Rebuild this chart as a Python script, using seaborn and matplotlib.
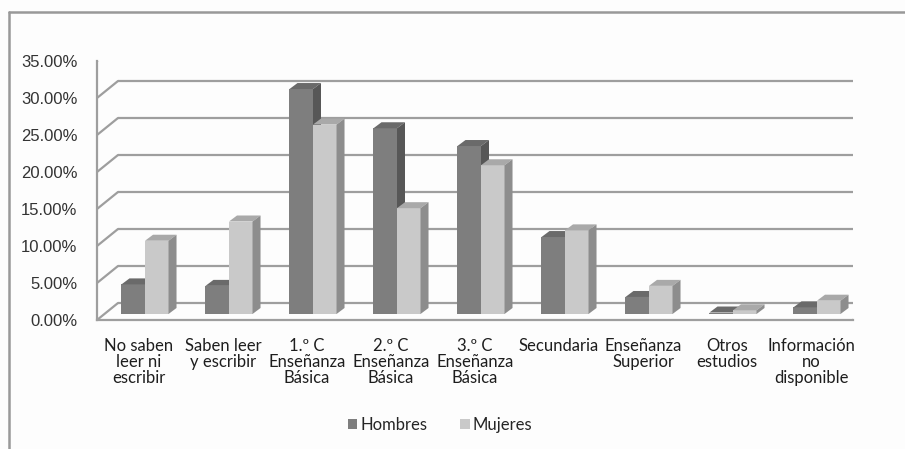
import matplotlib
matplotlib.use("Agg")
import matplotlib.pyplot as plt
from matplotlib.patches import Polygon, Patch
from matplotlib.lines import Line2D
from matplotlib.transforms import ScaledTranslation
import seaborn as sns
import pandas as pd

# ---- data -------------------------------------------------------------
categorias = [
    "No saben\nleer ni\nescribir",
    "Saben leer\ny escribir",
    "1.º C\nEnseñanza\nBásica",
    "2.º C\nEnseñanza\nBásica",
    "3.º C\nEnseñanza\nBásica",
    "Secundaria",
    "Enseñanza\nSuperior",
    "Otros\nestudios",
    "Información\nno\ndisponible",
]
hombres = [4.0, 3.8, 30.4, 25.1, 22.7, 10.4, 2.3, 0.2, 0.9]
mujeres = [9.9, 12.5, 25.6, 14.3, 20.1, 11.3, 3.8, 0.5, 1.8]
series = ["Hombres", "Mujeres"]
y_ticks = [0, 5, 10, 15, 20, 25, 30, 35]

df = pd.DataFrame({
    "nivel": categorias * 2,
    "pct": hombres + mujeres,
    "sexo": [series[0]] * len(categorias) + [series[1]] * len(categorias),
})

# ---- styling ----------------------------------------------------------
sns.set_style("white")
plt.rcParams["font.family"] = ["Liberation Sans", "DejaVu Sans"]

W, H, DPI = 905, 449, 100
front = {"Hombres": "#7e7e7e", "Mujeres": "#c9c9c9"}
top = {"Hombres": "#6a6a6a", "Mujeres": "#a9a9a9"}
side = {"Hombres": "#575757", "Mujeres": "#8d8d8d"}
grid_c = "#9e9e9e"

fig = plt.figure(figsize=(W / DPI, H / DPI), dpi=DPI)
fig.patch.set_facecolor("#fdfdfd")

# front plane of the 3-D box (pixel geometry)
ax_l, ax_r, ax_b, ax_t = 97, 853, 320, 61
ax = fig.add_axes([ax_l / W, (H - ax_b) / H, (ax_r - ax_l) / W, (ax_b - ax_t) / H])
ax.patch.set_alpha(0)

sns.barplot(data=df, x="nivel", y="pct", hue="sexo", palette=front,
            width=0.56, dodge=True, ax=ax, legend=False, saturation=1,
            edgecolor="none", linewidth=0)

ax.set_xlim(-0.5, len(categorias) - 0.5)
ax.set_ylim(0, 35)

# data units per pixel
kx = len(categorias) / (ax_r - ax_l)
ky = 35 / (ax_b - ax_t)

# back wall & side wall
bdx, bdy = 21 * kx, 17 * ky
x0, x1 = -0.5, len(categorias) - 0.5
for v in y_ticks:
    ax.plot([x0 + bdx, x1 + bdx], [v + bdy, v + bdy], color=grid_c, lw=1.6,
            zorder=1, solid_capstyle="butt")
    ax.plot([x0, x0 + bdx], [v, v + bdy], color=grid_c, lw=1.6, zorder=1)
# floor right edge
ax.plot([x1, x1 + bdx], [0, bdy], color=grid_c, lw=1.6, zorder=1)

# 3-D faces for each bar
shift = ScaledTranslation(6 / DPI, 6 / DPI, fig.dpi_scale_trans)
ddx, ddy = 8 * kx, 6 * ky
for name, cont, z in zip(series, ax.containers, (3, 4)):
    for p in cont.patches:
        bx, bw, bh = p.get_x(), p.get_width(), p.get_height()
        tr = ax.transData + shift
        p.set_transform(tr)
        p.set_zorder(z)
        top_face = Polygon([(bx, bh), (bx + bw, bh), (bx + bw + ddx, bh + ddy),
                            (bx + ddx, bh + ddy)], closed=True,
                           facecolor=top[name], edgecolor="none",
                           transform=tr, zorder=z)
        side_face = Polygon([(bx + bw, 0), (bx + bw + ddx, ddy),
                             (bx + bw + ddx, bh + ddy), (bx + bw, bh)],
                            closed=True, facecolor=side[name],
                            edgecolor="none", transform=tr, zorder=z)
        ax.add_patch(top_face)
        ax.add_patch(side_face)

# axes: front vertical axis and floor edge
sns.despine(ax=ax, top=True, right=True)
for s in ("left", "bottom"):
    ax.spines[s].set_color(grid_c)
    ax.spines[s].set_linewidth(1.6)
    ax.spines[s].set_zorder(2)

ax.set_yticks(y_ticks)
ax.set_yticklabels([f"{v:.2f}%" for v in y_ticks])
ax.tick_params(axis="y", length=3, width=1.2, color=grid_c, pad=11,
               labelsize=12, labelcolor="#333333")
ax.set_xticks(range(len(categorias)))
ax.set_xticklabels(categorias, family=["Lato", "DejaVu Sans"], fontsize=12,
                   color="#1e1e1e", linespacing=1.0)
ax.set_xticks([i - 0.5 for i in range(1, len(categorias) + 1)], minor=True)
ax.tick_params(axis="x", which="major", length=0, pad=13)
ax.tick_params(axis="x", which="minor", length=4, width=1.2, color=grid_c)
ax.set_xlabel("")
ax.set_ylabel("")

# outer chart frame
fig.add_artist(Line2D([9 / W, 9 / W], [0, 1 - 12 / H], color="#999999", lw=1.8))
fig.add_artist(Line2D([9 / W, 1], [1 - 12 / H, 1 - 12 / H], color="#999999", lw=1.8))

# legend
handles = [Patch(facecolor=front[s], edgecolor="none", label=s) for s in series]
fig.legend(handles=handles, loc="center", bbox_to_anchor=(440 / W, 1 - 425 / H),
           ncol=2, frameon=False, handlelength=0.55, handleheight=0.55,
           handletextpad=0.2, columnspacing=2.0,
           prop={"family": ["Lato", "DejaVu Sans"], "size": 12})

fig.savefig("out.png", dpi=DPI, facecolor=fig.get_facecolor())
